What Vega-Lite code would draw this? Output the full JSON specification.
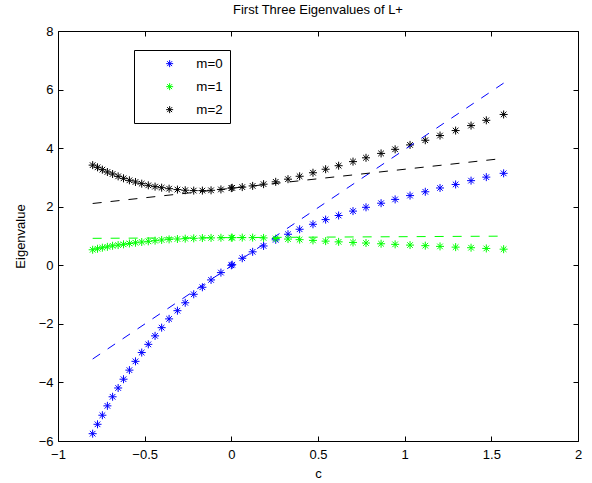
{
  "$schema": "https://vega.github.io/schema/vega-lite/v6.json",
  "width": 520,
  "height": 410,
  "autosize": "none",
  "padding": {"left": 58, "top": 31, "right": 14, "bottom": 42},
  "background": "white",
  "title": {"text": "First Three Eigenvalues of L+", "fontSize": 13, "fontWeight": "normal", "font": "Liberation Sans", "color": "black", "offset": 8},
  "config": {
    "view": {"stroke": "black", "strokeWidth": 1},
    "axis": {"grid": false, "domain": false, "ticks": true, "tickColor": "black", "tickSize": -5, "tickWidth": 1, "labelFont": "Liberation Sans", "labelFontSize": 13, "labelColor": "black", "titleFont": "Liberation Sans", "titleFontSize": 13, "titleFontWeight": "normal", "titleColor": "black", "labelFlush": false, "labelOverlap": false}
  },
  "datasets": {
    "lines": [
      {"m": "m=0", "c": -0.8, "v": -3.2},
      {"m": "m=0", "c": 1.5708, "v": 6.22},
      {"m": "m=1", "c": -0.8, "v": 0.92},
      {"m": "m=1", "c": 1.5708, "v": 0.995},
      {"m": "m=2", "c": -0.8, "v": 2.11},
      {"m": "m=2", "c": 1.5708, "v": 3.65}
    ],
    "pts": [
      {"m": "m=0", "c": -0.8, "v": -5.75},
      {"m": "m=0", "c": -0.772, "v": -5.43},
      {"m": "m=0", "c": -0.744, "v": -5.12},
      {"m": "m=0", "c": -0.715, "v": -4.8},
      {"m": "m=0", "c": -0.685, "v": -4.49},
      {"m": "m=0", "c": -0.653, "v": -4.19},
      {"m": "m=0", "c": -0.622, "v": -3.89},
      {"m": "m=0", "c": -0.588, "v": -3.58},
      {"m": "m=0", "c": -0.553, "v": -3.28},
      {"m": "m=0", "c": -0.517, "v": -2.98},
      {"m": "m=0", "c": -0.479, "v": -2.7},
      {"m": "m=0", "c": -0.44, "v": -2.41},
      {"m": "m=0", "c": -0.402, "v": -2.13},
      {"m": "m=0", "c": -0.359, "v": -1.83},
      {"m": "m=0", "c": -0.311, "v": -1.55},
      {"m": "m=0", "c": -0.266, "v": -1.28},
      {"m": "m=0", "c": -0.217, "v": -0.99},
      {"m": "m=0", "c": -0.167, "v": -0.75},
      {"m": "m=0", "c": -0.117, "v": -0.5},
      {"m": "m=0", "c": -0.06, "v": -0.25},
      {"m": "m=0", "c": 0, "v": 0},
      {"m": "m=0", "c": 0.005, "v": 0.02},
      {"m": "m=0", "c": 0.063, "v": 0.24},
      {"m": "m=0", "c": 0.123, "v": 0.46},
      {"m": "m=0", "c": 0.186, "v": 0.66},
      {"m": "m=0", "c": 0.256, "v": 0.87},
      {"m": "m=0", "c": 0.327, "v": 1.06},
      {"m": "m=0", "c": 0.394, "v": 1.23},
      {"m": "m=0", "c": 0.471, "v": 1.4},
      {"m": "m=0", "c": 0.544, "v": 1.56},
      {"m": "m=0", "c": 0.619, "v": 1.7},
      {"m": "m=0", "c": 0.702, "v": 1.85},
      {"m": "m=0", "c": 0.777, "v": 1.98},
      {"m": "m=0", "c": 0.864, "v": 2.12},
      {"m": "m=0", "c": 0.945, "v": 2.25},
      {"m": "m=0", "c": 1.031, "v": 2.38},
      {"m": "m=0", "c": 1.119, "v": 2.51},
      {"m": "m=0", "c": 1.204, "v": 2.64},
      {"m": "m=0", "c": 1.294, "v": 2.76},
      {"m": "m=0", "c": 1.383, "v": 2.89},
      {"m": "m=0", "c": 1.471, "v": 3.01},
      {"m": "m=0", "c": 1.571, "v": 3.14},
      {"m": "m=1", "c": -0.8, "v": 0.53},
      {"m": "m=1", "c": -0.772, "v": 0.565},
      {"m": "m=1", "c": -0.744, "v": 0.6},
      {"m": "m=1", "c": -0.715, "v": 0.63},
      {"m": "m=1", "c": -0.685, "v": 0.665},
      {"m": "m=1", "c": -0.653, "v": 0.69},
      {"m": "m=1", "c": -0.622, "v": 0.715},
      {"m": "m=1", "c": -0.588, "v": 0.745},
      {"m": "m=1", "c": -0.553, "v": 0.77},
      {"m": "m=1", "c": -0.517, "v": 0.795},
      {"m": "m=1", "c": -0.479, "v": 0.818},
      {"m": "m=1", "c": -0.44, "v": 0.841},
      {"m": "m=1", "c": -0.402, "v": 0.864},
      {"m": "m=1", "c": -0.359, "v": 0.884},
      {"m": "m=1", "c": -0.311, "v": 0.898},
      {"m": "m=1", "c": -0.266, "v": 0.909},
      {"m": "m=1", "c": -0.217, "v": 0.92},
      {"m": "m=1", "c": -0.167, "v": 0.93},
      {"m": "m=1", "c": -0.117, "v": 0.935},
      {"m": "m=1", "c": -0.06, "v": 0.94},
      {"m": "m=1", "c": 0, "v": 0.943},
      {"m": "m=1", "c": 0.005, "v": 0.943},
      {"m": "m=1", "c": 0.063, "v": 0.945},
      {"m": "m=1", "c": 0.123, "v": 0.945},
      {"m": "m=1", "c": 0.186, "v": 0.935},
      {"m": "m=1", "c": 0.256, "v": 0.915},
      {"m": "m=1", "c": 0.327, "v": 0.895},
      {"m": "m=1", "c": 0.394, "v": 0.875},
      {"m": "m=1", "c": 0.471, "v": 0.85},
      {"m": "m=1", "c": 0.544, "v": 0.825},
      {"m": "m=1", "c": 0.619, "v": 0.8},
      {"m": "m=1", "c": 0.702, "v": 0.78},
      {"m": "m=1", "c": 0.777, "v": 0.76},
      {"m": "m=1", "c": 0.864, "v": 0.735},
      {"m": "m=1", "c": 0.945, "v": 0.715},
      {"m": "m=1", "c": 1.031, "v": 0.69},
      {"m": "m=1", "c": 1.119, "v": 0.67},
      {"m": "m=1", "c": 1.204, "v": 0.645},
      {"m": "m=1", "c": 1.294, "v": 0.62},
      {"m": "m=1", "c": 1.383, "v": 0.6},
      {"m": "m=1", "c": 1.471, "v": 0.575},
      {"m": "m=1", "c": 1.571, "v": 0.55},
      {"m": "m=2", "c": -0.8, "v": 3.42},
      {"m": "m=2", "c": -0.772, "v": 3.345},
      {"m": "m=2", "c": -0.744, "v": 3.265},
      {"m": "m=2", "c": -0.715, "v": 3.185},
      {"m": "m=2", "c": -0.685, "v": 3.117},
      {"m": "m=2", "c": -0.653, "v": 3.037},
      {"m": "m=2", "c": -0.622, "v": 2.969},
      {"m": "m=2", "c": -0.588, "v": 2.901},
      {"m": "m=2", "c": -0.553, "v": 2.844},
      {"m": "m=2", "c": -0.517, "v": 2.787},
      {"m": "m=2", "c": -0.479, "v": 2.73},
      {"m": "m=2", "c": -0.44, "v": 2.685},
      {"m": "m=2", "c": -0.402, "v": 2.65},
      {"m": "m=2", "c": -0.359, "v": 2.616},
      {"m": "m=2", "c": -0.311, "v": 2.585},
      {"m": "m=2", "c": -0.266, "v": 2.563},
      {"m": "m=2", "c": -0.217, "v": 2.55},
      {"m": "m=2", "c": -0.167, "v": 2.55},
      {"m": "m=2", "c": -0.117, "v": 2.56},
      {"m": "m=2", "c": -0.06, "v": 2.59},
      {"m": "m=2", "c": 0, "v": 2.635},
      {"m": "m=2", "c": 0.005, "v": 2.645},
      {"m": "m=2", "c": 0.063, "v": 2.67},
      {"m": "m=2", "c": 0.123, "v": 2.71},
      {"m": "m=2", "c": 0.186, "v": 2.77},
      {"m": "m=2", "c": 0.256, "v": 2.85},
      {"m": "m=2", "c": 0.327, "v": 2.94},
      {"m": "m=2", "c": 0.394, "v": 3.04},
      {"m": "m=2", "c": 0.471, "v": 3.16},
      {"m": "m=2", "c": 0.544, "v": 3.28},
      {"m": "m=2", "c": 0.619, "v": 3.4},
      {"m": "m=2", "c": 0.702, "v": 3.54},
      {"m": "m=2", "c": 0.777, "v": 3.67},
      {"m": "m=2", "c": 0.864, "v": 3.82},
      {"m": "m=2", "c": 0.945, "v": 3.96},
      {"m": "m=2", "c": 1.031, "v": 4.11},
      {"m": "m=2", "c": 1.119, "v": 4.27},
      {"m": "m=2", "c": 1.204, "v": 4.43},
      {"m": "m=2", "c": 1.294, "v": 4.6},
      {"m": "m=2", "c": 1.383, "v": 4.77},
      {"m": "m=2", "c": 1.471, "v": 4.95},
      {"m": "m=2", "c": 1.571, "v": 5.15}
    ]
  },
  "layer": [
    {
      "data": {"name": "pts"},
      "mark": {"type": "point", "shape": "M-1,0L1,0M0,-1L0,1M-0.7,-0.7L0.7,0.7M-0.7,0.7L0.7,-0.7", "filled": false, "size": 64, "strokeWidth": 1, "opacity": 1},
      "encoding": {
        "x": {"field": "c", "type": "quantitative", "scale": {"domain": [-1, 2], "nice": false, "zero": false},
              "axis": {"orient": "bottom", "values": [-1, -0.5, 0, 0.5, 1, 1.5, 2], "format": "~g", "title": "c", "labelPadding": 12, "titlePadding": 6}},
        "y": {"field": "v", "type": "quantitative", "scale": {"domain": [-6, 8], "nice": false, "zero": false},
              "axis": {"orient": "left", "values": [-6, -4, -2, 0, 2, 4, 6, 8], "format": "~g", "title": "Eigenvalue", "labelPadding": 10, "titlePadding": 11}},
        "color": {"field": "m", "type": "nominal",
                  "scale": {"domain": ["m=0", "m=1", "m=2"], "range": ["#0000ff", "#00ff00", "#000000"]},
                  "legend": {"title": null, "orient": "none", "legendX": 76, "legendY": 19, "strokeColor": "black", "fillColor": "white", "padding": 7, "symbolOffset": 22, "labelOffset": 20, "rowPadding": 9, "labelFont": "Liberation Sans", "labelFontSize": 13.3, "labelColor": "black", "symbolStrokeWidth": 1, "symbolSize": 49, "symbolOpacity": 1, "symbolType": "M-1,0L1,0M0,-1L0,1M-0.7,-0.7L0.7,0.7M-0.7,0.7L0.7,-0.7"}}
      }
    },
    {
      "data": {"name": "lines"},
      "mark": {"type": "line", "strokeDash": [9, 9], "strokeWidth": 1},
      "encoding": {
        "x": {"field": "c", "type": "quantitative", "axis": {"orient": "top", "values": [-1, -0.5, 0, 0.5, 1, 1.5, 2], "labels": false, "title": null}},
        "y": {"field": "v", "type": "quantitative", "axis": {"orient": "right", "values": [-6, -4, -2, 0, 2, 4, 6, 8], "labels": false, "title": null}},
        "color": {"field": "m", "type": "nominal", "legend": null}
      }
    }
  ],
  "resolve": {"axis": {"x": "independent", "y": "independent"}}
}
